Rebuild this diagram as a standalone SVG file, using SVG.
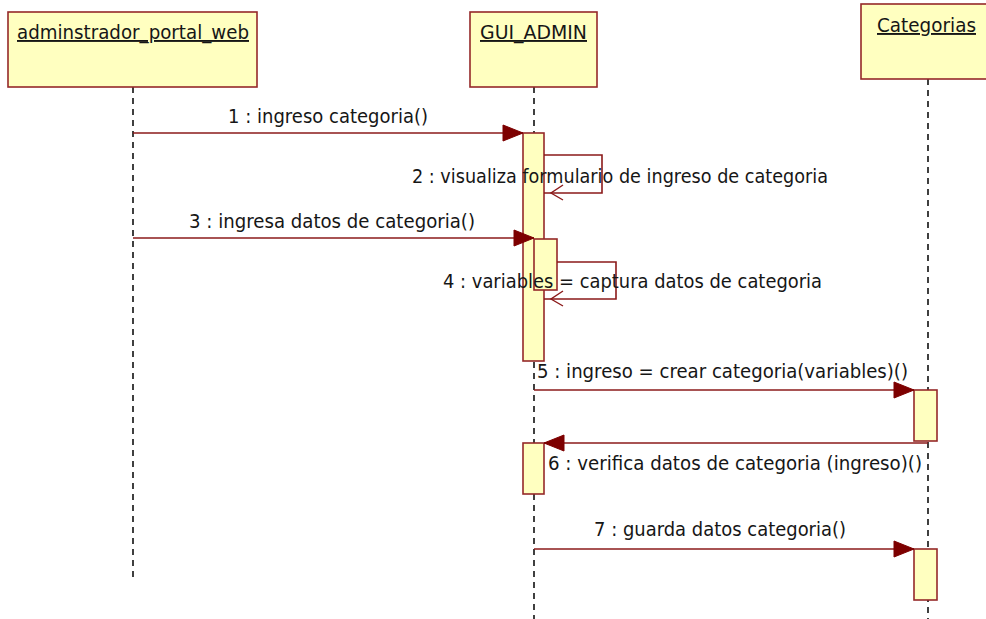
<svg xmlns="http://www.w3.org/2000/svg" width="986" height="619" viewBox="0 0 986 619">
<style>
.head{fill:#ffffc0;stroke:#952828;stroke-width:1.6}
.act{fill:#ffffc0;stroke:#952828;stroke-width:1.6}
.life{stroke:#111;stroke-width:1.6;stroke-dasharray:6 5;fill:none}
.msg{stroke:#8b1a1a;stroke-width:1.6;fill:none}
.sync{marker-end:url(#filled)}
.self{marker-end:url(#open)}
text{font-family:"DejaVu Sans","Liberation Sans",sans-serif;font-size:19px;fill:#161616}
.name{text-decoration:underline}
</style>
<defs>
<marker id="filled" markerUnits="userSpaceOnUse" refX="0" refY="0" markerWidth="24" markerHeight="20" orient="auto" overflow="visible">
<path d="M-20,-8 L0,0 L-20,8 Z" fill="#7d0000" stroke="#7d0000" stroke-width="1"/>
</marker>
<marker id="open" markerUnits="userSpaceOnUse" refX="0" refY="0" markerWidth="24" markerHeight="20" orient="auto" overflow="visible">
<path d="M-19,-7 L-7,0 L-19,8" fill="none" stroke="#8b1a1a" stroke-width="1.4"/>
</marker>
</defs>
<rect width="986" height="619" fill="#fff"/>

<g id="node-admin">
<line class="life" x1="133" y1="87" x2="133" y2="578"/>
<rect class="head" x="8" y="12" width="249" height="75"/>
<text class="name" x="17" y="39" textLength="232" lengthAdjust="spacingAndGlyphs">adminstrador_portal_web</text>
</g>

<g id="node-gui">
<line class="life" x1="534" y1="87" x2="534" y2="619"/>
<rect class="head" x="470" y="12" width="127" height="75"/>
<text class="name" x="480" y="39" textLength="107" lengthAdjust="spacingAndGlyphs">GUI_ADMIN</text>
<rect class="act" x="523" y="133" width="21" height="228"/>
<rect class="act" x="534" y="239" width="23" height="51"/>
<rect class="act" x="523" y="443" width="21" height="51"/>
</g>

<g id="node-categorias">
<line class="life" x1="928" y1="79" x2="928" y2="619"/>
<rect class="head" x="861" y="4" width="127" height="75"/>
<text class="name" x="877" y="32" textLength="99" lengthAdjust="spacingAndGlyphs">Categorias</text>
<rect class="act" x="914" y="390" width="23" height="51"/>
<rect class="act" x="914" y="549" width="23" height="51"/>
</g>

<g id="connectors">
<path class="msg sync" d="M133,133 H523"/>
<path class="msg self" d="M544,155 H602 V193 H544"/>
<path class="msg sync" d="M133,238 H534"/>
<path class="msg self" d="M557,262 H616 V299 H544"/>
<path class="msg sync" d="M534,390 H914"/>
<path class="msg sync" d="M928,443 H544"/>
<path class="msg sync" d="M534,549 H914"/>
<text x="228" y="123" textLength="200" lengthAdjust="spacingAndGlyphs">1 : ingreso categoria()</text>
<text x="412" y="183" textLength="416" lengthAdjust="spacingAndGlyphs">2 : visualiza formulario de ingreso de categoria</text>
<text x="189" y="228" textLength="286" lengthAdjust="spacingAndGlyphs">3 : ingresa datos de categoria()</text>
<text x="443" y="288" textLength="379" lengthAdjust="spacingAndGlyphs">4 : variables = captura datos de categoria</text>
<text x="537" y="378" textLength="371" lengthAdjust="spacingAndGlyphs">5 : ingreso = crear categoria(variables)()</text>
<text x="548" y="470" textLength="374" lengthAdjust="spacingAndGlyphs">6 : verifica datos de categoria (ingreso)()</text>
<text x="594" y="536" textLength="252" lengthAdjust="spacingAndGlyphs">7 : guarda datos categoria()</text>
</g>
</svg>
